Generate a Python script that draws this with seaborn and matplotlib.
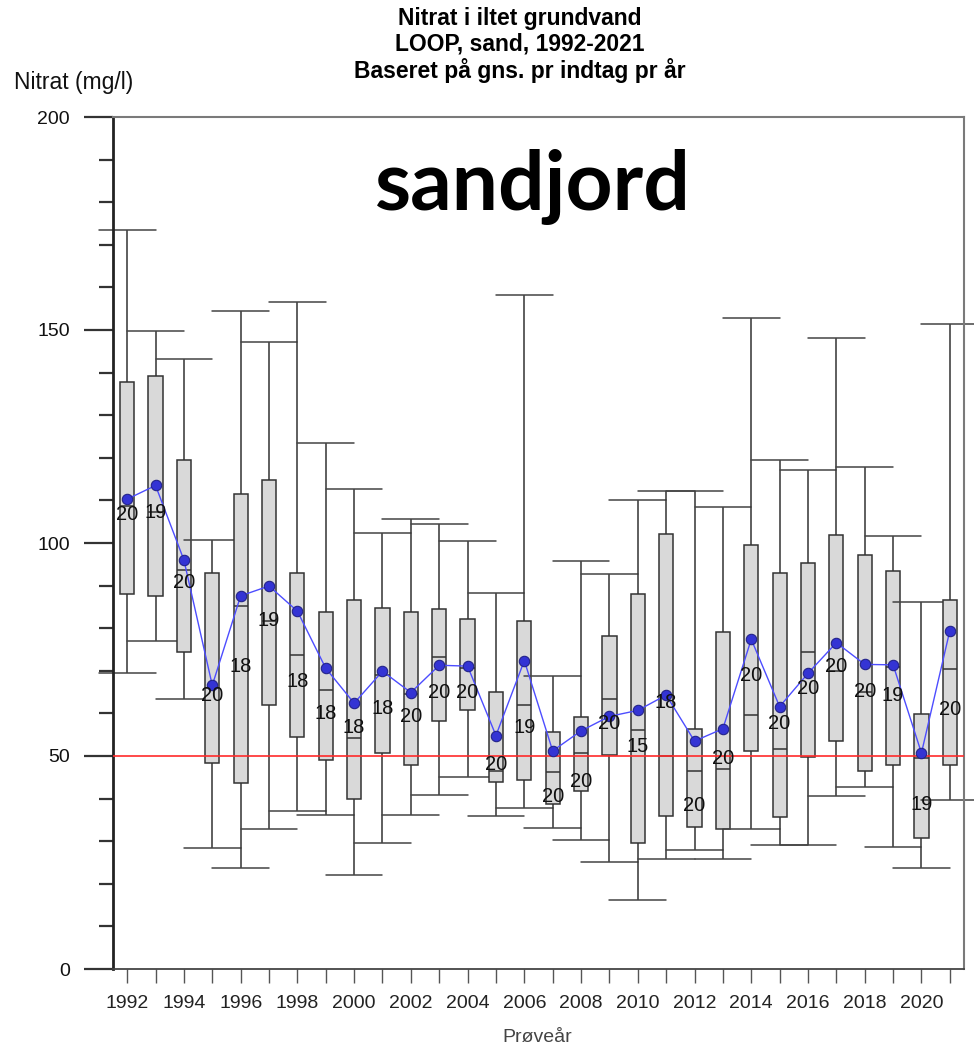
import numpy as np
import pandas as pd
import seaborn as sns
import matplotlib.pyplot as plt
from matplotlib.ticker import MultipleLocator

# Nitrat i iltet grundvand, LOOP sand, 1992-2021
years = [str(y) for y in range(1992, 2022)]
mins = [69.6, 77.0, 63.4, 28.3, 23.7, 32.9, 37.0, 36.2, 22.1, 29.5,
        36.2, 40.8, 45.0, 36.0, 37.9, 33.2, 30.3, 25.2, 16.3, 25.9,
        28.0, 25.9, 32.9, 29.2, 29.0, 40.5, 42.8, 28.7, 23.6, 39.7]
q1s = [88.0, 87.5, 74.4, 48.3, 43.6, 62.0, 54.5, 49.1, 39.8, 50.6,
       47.9, 58.3, 60.7, 44.0, 44.3, 38.7, 41.7, 50.2, 29.5, 36.0,
       33.3, 32.8, 51.2, 35.6, 49.8, 53.5, 46.5, 47.9, 30.8, 48.0]
medians = [108.8, 107.2, 93.7, 66.0, 85.1, 81.8, 73.8, 65.4, 54.2, 69.0,
           64.5, 73.2, 70.7, 46.5, 62.0, 46.3, 50.6, 63.4, 56.2, 50.0,
           46.5, 47.0, 59.7, 51.7, 74.3, 70.0, 65.0, 71.0, 49.6, 70.4]
q3s = [137.7, 139.3, 119.5, 92.9, 111.5, 114.9, 93.0, 83.7, 86.6, 84.7,
       83.9, 84.6, 82.1, 65.1, 81.8, 55.6, 59.2, 78.1, 88.0, 102.1,
       56.3, 79.1, 99.6, 92.9, 95.3, 101.9, 97.1, 93.5, 59.8, 86.6]
maxs = [173.5, 149.8, 143.3, 100.6, 154.5, 147.3, 156.6, 123.5, 112.6, 102.3,
        105.7, 104.4, 100.5, 88.2, 158.1, 68.7, 95.8, 92.8, 110.0, 112.2,
        112.2, 108.4, 152.8, 119.6, 117.2, 148.1, 117.8, 101.6, 86.1, 151.4]
means = [110.3, 113.5, 96.0, 66.6, 87.6, 89.9, 84.0, 70.6, 62.4, 69.9,
         64.9, 71.3, 71.1, 54.8, 72.4, 51.2, 55.9, 59.3, 60.7, 64.3,
         53.5, 56.4, 77.4, 61.6, 69.4, 76.6, 71.5, 71.4, 50.7, 79.4]
# count labels sit at the geometric mean
geo_means = [106.6, 107.2, 90.7, 64.3, 70.9, 81.8, 67.4, 60.0, 56.8, 61.1,
             59.3, 64.9, 64.9, 48.0, 56.6, 40.6, 43.9, 57.7, 52.3, 62.6,
             38.3, 49.4, 68.8, 57.7, 65.9, 71.0, 65.1, 64.3, 38.7, 61.0]
counts = [20, 19, 20, 20, 18, 19, 18, 18, 18, 18,
          20, 20, 20, 20, 19, 20, 20, 20, 15, 18,
          20, 20, 20, 20, 20, 20, 20, 19, 19, 20]

# five-number summary per year -> long table for seaborn
rows = []
for i, yr in enumerate(years):
    for v in (mins[i], q1s[i], medians[i], q3s[i], maxs[i]):
        rows.append({"year": yr, "nitrat": v})
df = pd.DataFrame(rows)

sns.set_style("ticks")
plt.rcParams["font.family"] = ["Liberation Sans", "DejaVu Sans"]

fig = plt.figure(figsize=(9.74, 10.47), dpi=100)
ax = fig.add_axes([113 / 974, 1 - 969 / 1047, 851 / 974, 852 / 1047])

sns.boxplot(data=df, x="year", y="nitrat", order=years, whis=(0, 100),
            width=0.5, color="#d9d9d9", saturation=1, linecolor="#333333",
            linewidth=1.1, showfliers=False, capwidths=2.0, ax=ax,
            capprops=dict(color="#444444", clip_on=False))

ax.axhline(50, color="#ff2a2a", lw=1.2, zorder=3)

sns.pointplot(x=years, y=means, order=years, color="#4d4dff", marker="",
              linewidth=1.0, errorbar=None, ax=ax, zorder=4)
sns.pointplot(x=years, y=means, order=years, color="#3434d4", marker="o",
              linestyle="none", markersize=7.5, markeredgecolor="#23238a",
              markeredgewidth=0.8, errorbar=None, ax=ax, zorder=5)

for i, n in enumerate(counts):
    ax.text(i, geo_means[i], str(n), ha="center", va="center",
            fontsize=14.5, color="#111111", zorder=6)

ax.set_xlim(-0.5, 29.5)
ax.set_ylim(0, 200)
ax.set_yticks([0, 50, 100, 150, 200])
ax.yaxis.set_minor_locator(MultipleLocator(10))
ax.tick_params(axis="y", which="major", length=21, width=1.6, color="#333333",
               labelsize=14, labelcolor="#111111", pad=10)
ax.tick_params(axis="y", which="minor", length=10, width=1.6, color="#333333")
ax.set_xticks(range(len(years)))
ax.set_xticklabels([y if i % 2 == 0 else "" for i, y in enumerate(years)])
ax.tick_params(axis="x", length=10, width=1.0, color="#555555",
               labelsize=14, labelcolor="#222222", pad=9)
ax.set_xlabel("")
ax.set_ylabel("")

for s in ["top", "right"]:
    ax.spines[s].set_visible(True)
    ax.spines[s].set_color("#7a7a7a")
    ax.spines[s].set_linewidth(1.5)
ax.spines["left"].set_color("#222222")
ax.spines["left"].set_linewidth(2.0)
ax.spines["bottom"].set_color("#444444")
ax.spines["bottom"].set_linewidth(1.3)

ax.text(0.4935, 0.891, "sandjord", transform=ax.transAxes, ha="center",
        va="baseline", fontsize=59, fontweight="bold", color="black",
        family=["Lato", "DejaVu Sans"])

fig.text(520 / 974, 1 - 45 / 1047,
         "Nitrat i iltet grundvand\nLOOP, sand, 1992-2021\nBaseret på gns. pr indtag pr år",
         ha="center", va="center", fontsize=16.5, fontweight="bold",
         linespacing=1.12, color="black")
fig.text(14 / 974, 1 - 82 / 1047, "Nitrat (mg/l)", ha="left", va="center",
         fontsize=16.5, color="#111111")
fig.text(537 / 974, 1 - 1037 / 1047, "Prøveår", ha="center", va="center",
         fontsize=14, color="#444444")

plt.savefig("out.png", dpi=100)
